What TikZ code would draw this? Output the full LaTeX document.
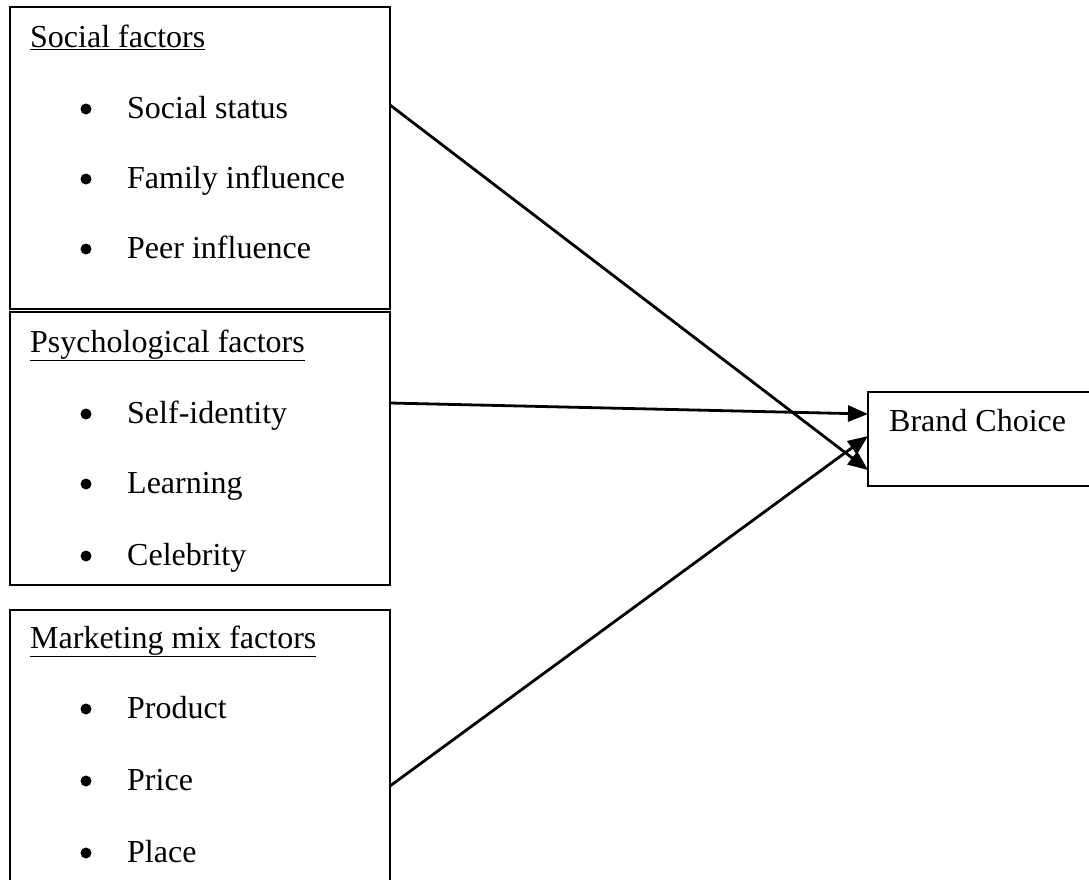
\documentclass[tikz,border=0pt]{standalone}
\usepackage{fontspec}
\setmainfont{Liberation Serif}
\usetikzlibrary{arrows.meta,calc}
\begin{document}
\begin{tikzpicture}[x=1pt,y=-1pt,
  box/.style={draw,line width=2.8pt,anchor=north west,inner sep=0pt,outer sep=0pt},
  head/.style={anchor=base west,inner sep=0pt,font=\fontsize{32}{38}\selectfont},
  item/.style={anchor=base west,inner sep=0pt,font=\fontsize{32}{38}\selectfont},
  dot/.style={fill=black},
  conn/.style={line width=2.8pt,-{Triangle[length=20pt,width=16pt]}}]
\useasboundingbox (0,0) rectangle (1089,879);
\clip (0,0) rectangle (1089,879);
% boxes
\node[box,minimum width=380pt,minimum height=302pt] (s1) at (10,7) {};
\node[box,minimum width=380pt,minimum height=273pt] (s2) at (10,312) {};
\node[box,minimum width=380pt,minimum height=300pt] (s3) at (10,610) {};
\node[box,minimum width=240pt,minimum height=94pt] (bc) at (868,392) {};
% texts
\node[head] (h1) at (30,47) {\underline{Social factors}};
\node[item] (i11) at (127,118) {Social status};
\node[item] (i12) at (127,188) {Family influence};
\node[item] (i13) at (127,258) {Peer influence};
\node[head] (h2) at (30,352) {\underline{Psychological factors}};
\node[item] (i21) at (127,423) {Self-identity};
\node[item] (i22) at (127,493) {Learning};
\node[item] (i23) at (127,565) {Celebrity};
\node[head] (h3) at (30,648) {\underline{Marketing mix factors}};
\node[item] (i31) at (127,718) {Product};
\node[item] (i32) at (127,790) {Price};
\node[item] (i33) at (127,862) {Place};
\node[head] (bct) at (889,431) {Brand Choice};
% bullets
\foreach \n in {i11,i12,i13,i21,i22,i23,i31,i32,i33}
  \fill[dot] ($(\n.base west)+(-41,-9)$) circle (5.5pt);
% connectors
\draw[conn] ($(s1.north east)+(0,98)$) -- ($(bc.north west)+(0,78)$);
\draw[conn] ($(s2.north east)+(0,91)$) -- ($(bc.north west)+(0,22)$);
\draw[conn] ($(s3.north east)+(0,176)$) -- ($(bc.north west)+(0,44)$);
\end{tikzpicture}
\end{document}
